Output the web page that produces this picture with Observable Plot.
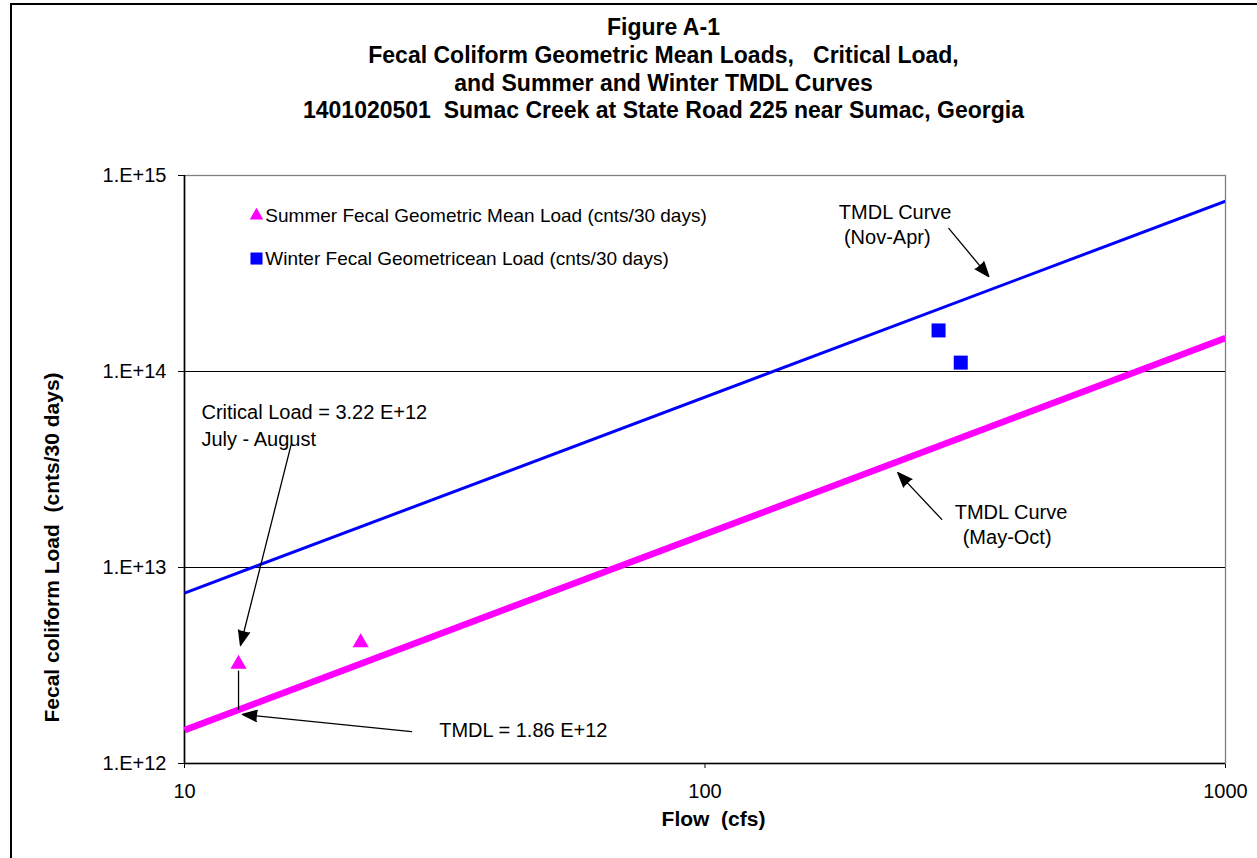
<!DOCTYPE html>
<html>
<head>
<meta charset="utf-8">
<script src="https://cdn.jsdelivr.net/npm/d3@7"></script>
<script src="https://cdn.jsdelivr.net/npm/@observablehq/plot@0.6"></script>
<style>
  html, body { margin: 0; padding: 0; background: #fff; }
  #page { position: relative; width: 1257px; height: 858px; overflow: hidden; background: #fff; font-family: "Liberation Sans", Arial, sans-serif; }
  #title { position: absolute; left: 0; top: 14px; width: 1327px; text-align: center; font-weight: bold; font-size: 23px; line-height: 27.8px; white-space: pre; color: #000; }
  #chart { position: absolute; left: 0; top: 120px; }
  #border { position: absolute; left: 10px; top: 3px; width: 1400px; height: 1000px; border-left: 2px solid #000; border-top: 2px solid #000; pointer-events: none; }
</style>
</head>
<body>
<div id="page">
  <div id="title"></div>
  <div id="chart"></div>
  <div id="border"></div>
</div>
<script>
// ---- chart text ----
const titleLines = [
  "Figure A-1",
  "Fecal Coliform Geometric Mean Loads,   Critical Load,",
  "and Summer and Winter TMDL Curves",
  "1401020501  Sumac Creek at State Road 225 near Sumac, Georgia"
];
const xLabel = "Flow  (cfs)";
const yLabel = "Fecal coliform Load  (cnts/30 days)";
// anchor of the rotated y-axis title, in data units (left of the axis)
const yLabelFlow = [5.58];
const yLabelLoad = [1.265e13];

// ---- axes ----
const xTicks = [10, 100, 1000];
const yTicks = [1e12, 1e13, 1e14, 1e15];
const yTickLabels = ["1.E+12", "1.E+13", "1.E+14", "1.E+15"];
const gridLoads = [1e13, 1e14];

// ---- TMDL curves (flow, load) ----
const curveFlow = [10, 1000];
const summerCurveLoad = [1.48e12, 1.48e14];
const winterCurveLoad = [7.4e12, 7.4e14];

// ---- geometric mean loads ----
const summerFlow = [12.7, 21.8];
const summerLoad = [3.22e12, 4.14e12];
const winterFlow = [281, 310];
const winterLoad = [1.62e14, 1.11e14];

// ---- legend ----
const legendLabels = ["Summer Fecal Geometric Mean Load (cnts/30 days)", "Winter Fecal Geometricean Load (cnts/30 days)"];
const legendMarkerFlow = 13.75;
const legendTextFlow = 14.3;
const legendLoad = [6.25e14, 3.77e14];

// ---- annotations ----
const noteTexts = ["Critical Load = 3.22 E+12", "July - August", "TMDL = 1.86 E+12", "TMDL Curve", "(Nov-Apr)", "TMDL Curve", "(May-Oct)"];
const noteFlow = [10.78, 10.78, 30.86, 180.8, 184.9, 301.8, 312.7];
const noteLoad = [6.18e13, 4.5e13, 1.47e12, 6.47e14, 4.83e14, 1.91e13, 1.42e13];

const arrowFlowFrom = [16.05, 27.3, 294, 285];
const arrowLoadFrom = [4.3e13, 1.455e12, 5.37e14, 1.76e13];
const arrowFlowTo = [12.81, 12.92, 351, 234.6];
const arrowLoadTo = [4.0e12, 1.78e12, 3.05e14, 3.05e13];

const stemFlow = [12.7];
const stemLoadFrom = [1.88e12];
const stemLoadTo = [2.98e12];

// ---- build tables ----
document.getElementById("title").textContent = titleLines.join("\n");

const summerCurve = curveFlow.map((f, i) => ({flow: f, load: summerCurveLoad[i]}));
const winterCurve = curveFlow.map((f, i) => ({flow: f, load: winterCurveLoad[i]}));
const summerPts = summerFlow.map((f, i) => ({flow: f, load: summerLoad[i]}));
const winterPts = winterFlow.map((f, i) => ({flow: f, load: winterLoad[i]}));
const notes = noteTexts.map((t, i) => ({text: t, flow: noteFlow[i], load: noteLoad[i]}));
const arrows = arrowFlowFrom.map((f, i) => ({x1: f, y1: arrowLoadFrom[i], x2: arrowFlowTo[i], y2: arrowLoadTo[i]}));
const stems = stemFlow.map((f, i) => ({x1: f, y1: stemLoadFrom[i], x2: f, y2: stemLoadTo[i]}));
const legend = legendLabels.map((t, i) => ({text: t, load: legendLoad[i]}));
const yTitle = yLabelFlow.map((f, i) => ({text: yLabel, flow: f, load: yLabelLoad[i]}));

const MAGENTA = "#FF00FF";
const BLUE = "#0000FF";
const FONT = "Liberation Sans, Arial, sans-serif";

const chart = Plot.plot({
  width: 1257,
  height: 738,
  marginLeft: 184,
  marginRight: 32,
  marginTop: 55,
  marginBottom: 95,
  style: {fontFamily: FONT, fontSize: "20px", color: "#000", background: "none", overflow: "visible"},
  x: {type: "log", domain: [10, 1000], ticks: xTicks, tickFormat: d => String(d), tickSize: 5, tickPadding: 15, label: null},
  y: {type: "log", domain: [1e12, 1e15], ticks: yTicks, tickFormat: d => yTickLabels[yTicks.indexOf(d)], tickSize: 6, tickPadding: 12, label: null},
  marks: [
    Plot.frame({stroke: "#808080", strokeWidth: 1.3}),
    Plot.ruleY(gridLoads, {stroke: "#000", strokeWidth: 1.2}),
    Plot.ruleX([10], {stroke: "#000", strokeWidth: 1.6}),
    Plot.ruleY([1e12], {stroke: "#000", strokeWidth: 1.6}),
    Plot.line(winterCurve, {x: "flow", y: "load", stroke: BLUE, strokeWidth: 3, strokeLinecap: "butt", clip: true}),
    Plot.line(summerCurve, {x: "flow", y: "load", stroke: MAGENTA, strokeWidth: 6.5, strokeLinecap: "butt", clip: true}),
    Plot.link(stems, {x1: "x1", y1: "y1", x2: "x2", y2: "y2", stroke: "#000", strokeWidth: 1.3}),
    Plot.arrow(arrows, {x1: "x1", y1: "y1", x2: "x2", y2: "y2", stroke: "#000", fill: "#000", strokeWidth: 1.3, headLength: 18, headAngle: 42}),
    Plot.dot(summerPts, {x: "flow", y: "load", symbol: "triangle", fill: MAGENTA, r: 6}),
    Plot.dot(winterPts, {x: "flow", y: "load", symbol: "square", fill: BLUE, r: 7.9}),
    Plot.dot(legend.slice(0, 1), {x: () => legendMarkerFlow, y: "load", symbol: "triangle", fill: MAGENTA, r: 5}),
    Plot.dot(legend.slice(1, 2), {x: () => legendMarkerFlow, y: "load", symbol: "square", fill: BLUE, r: 6.8}),
    Plot.text(legend, {x: () => legendTextFlow, y: "load", text: "text", textAnchor: "start", fontSize: 19, fill: "#000"}),
    Plot.text(notes, {x: "flow", y: "load", text: "text", textAnchor: "start", fontSize: 20, fill: "#000"}),
    Plot.text(yTitle, {x: "flow", y: "load", text: "text", rotate: -90, fontSize: 21, fontWeight: "bold", fill: "#000"}),
    Plot.text([xLabel], {frameAnchor: "bottom", text: d => d, dx: 8.5, dy: 62, fontSize: 21, fontWeight: "bold", fill: "#000"})
  ]
});
document.getElementById("chart").appendChild(chart);
</script>
</body>
</html>
